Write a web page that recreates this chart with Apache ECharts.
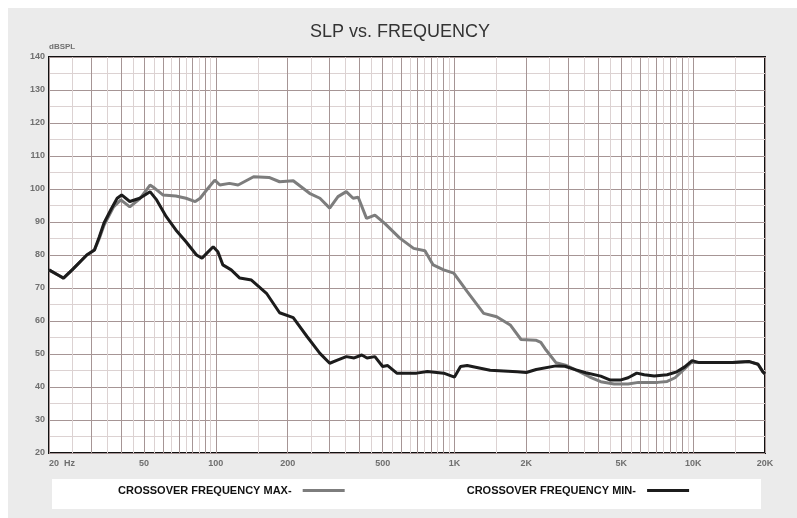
<!DOCTYPE html>
<html>
<head>
<meta charset="utf-8">
<script src="https://cdn.jsdelivr.net/npm/echarts@6/dist/echarts.min.js"></script>
<style>
  html, body { margin: 0; padding: 0; background: #fff; }
  #chart { width: 797px; height: 518px; }
</style>
</head>
<body>
<div id="chart"></div>
<script>
// curve data (Hz, dB SPL)
var maxFreq = [20, 22, 23, 25, 28.8, 31, 32.5, 34, 37.3, 40, 43.6, 48, 53, 55.5, 60, 68, 75, 82, 86, 91.5,
  99, 104, 114, 124, 144, 167, 185, 211, 247, 273, 300, 325, 352, 376, 395, 428, 464, 510, 590, 674,
  752, 814, 901, 993, 1131, 1325, 1503, 1712, 1900, 2190, 2300, 2420, 2660, 2920, 3350, 3670, 4100, 4660, 5340, 5900,
  7100, 7780, 8400, 9100, 9800, 10600, 14600, 17200, 18700, 19600, 20000];
var maxDb = [75.5, 73.8, 73, 75.5, 80, 81.5, 85, 89, 94.6, 96.7, 94.6, 97, 101.2, 100.2, 98.2, 97.9, 97.2, 96.2, 97.2, 99.7,
  102.7, 101.2, 101.7, 101.2, 103.7, 103.5, 102.2, 102.5, 98.7, 97.2, 94.2, 97.7, 99.2, 97.2, 97.5, 91.1, 92.1, 89.6, 85.1, 82,
  81.3, 77, 75.5, 74.5, 68.9, 62.3, 61.3, 58.8, 54.4, 54.2, 53.5, 51.2, 47.4, 46.6, 44.6, 43.1, 41.6, 40.9, 40.9, 41.4,
  41.4, 41.7, 42.8, 45.2, 47.4, 47.4, 47.4, 47.7, 46.9, 44.6, 44];

var minFreq = [20, 22, 23, 25, 28.8, 31, 32.5, 34, 36.5, 38.6, 40.3, 43.6, 48, 53, 56.5, 62, 68, 75, 83, 87.5,
  91.5, 97.5, 99, 102, 107, 116, 126, 141, 163, 185, 211, 241, 273, 300, 325, 352, 380, 409, 430, 464,
  500, 525, 573, 694, 770, 901, 1000, 1060, 1130, 1410, 1830, 2000, 2200, 2660, 2900, 3230, 3550, 4100, 4500, 4950,
  5340, 5800, 6240, 6870, 7780, 8540, 9220, 9900, 10600, 14600, 17200, 18700, 19600, 20000];
var minDb = [75.5, 73.8, 73, 75.5, 80, 81.5, 85.5, 89.7, 94, 97.2, 98.2, 96.2, 97.2, 99.2, 96.7, 91.6, 87.6, 84, 80, 79,
  80.5, 82.5, 83, 81, 77, 75.5, 73, 72.4, 68.4, 62.5, 61, 55.3, 50.2, 47.2, 48.2, 49.2, 48.8, 49.7, 48.8, 49.2,
  46.2, 46.5, 44.2, 44.2, 44.7, 44.2, 43, 46.2, 46.5, 45.1, 44.6, 44.4, 45.3, 46.4, 46.3, 45.2, 44.3, 43.3, 42.1, 42.1,
  42.8, 44.2, 43.7, 43.3, 43.7, 44.6, 46.1, 48, 47.4, 47.4, 47.7, 46.9, 44.6, 44];

// x axis labels and grid lines
var freqLabels = [20, 50, 100, 200, 500, 1000, 2000, 5000, 10000, 20000];
var majorGrid = [20, 30, 40, 50, 60, 70, 80, 90, 100, 200, 300, 400, 500, 600, 700, 800, 900,
  1000, 2000, 3000, 4000, 5000, 6000, 7000, 8000, 9000, 10000, 20000];
var minorGrid = [25, 35, 45, 55, 65, 75, 85, 95, 150, 250, 350, 450, 550, 650, 750, 850, 950,
  1500, 2500, 3500, 4500, 5500, 6500, 7500, 8500, 9500, 15000];

function zip(xs, ys) {
  return xs.map(function (x, i) { return [x, ys[i]]; });
}

var chart = echarts.init(document.getElementById('chart'));

var xBase = {
  type: 'log',
  logBase: 10,
  min: 20,
  max: 20000,
  position: 'bottom',
  axisLine: { show: false },
  splitLine: { show: false }
};

chart.setOption({
  backgroundColor: '#ffffff',
  animation: false,
  graphic: [
    { type: 'rect', z: -10, shape: { x: 8, y: 8, width: 789, height: 510 }, style: { fill: '#ebebeb' } },
    { type: 'rect', z: -9, shape: { x: 52, y: 479, width: 709, height: 30 }, style: { fill: '#ffffff' } }
  ],
  title: {
    text: 'SLP vs. FREQUENCY',
    left: 310,
    top: 23,
    padding: 0,
    textStyle: { fontFamily: 'Liberation Sans, Arial, sans-serif', fontSize: 18, fontWeight: 'normal', color: '#333' }
  },
  legend: {
    left: 118,
    top: 485,
    padding: 0,
    align: 'right',
    icon: 'rect',
    itemWidth: 42,
    itemHeight: 3,
    itemGap: 122,
    formatter: function (name) { return name + '  '; },
    textStyle: { fontFamily: 'Liberation Sans, Arial, sans-serif', fontSize: 11, fontWeight: 'bold', color: '#111' },
    data: ['CROSSOVER FREQUENCY MAX-', 'CROSSOVER FREQUENCY MIN-']
  },
  grid: {
    left: 49,
    right: 32,
    top: 57,
    bottom: 65,
    show: true,
    backgroundColor: '#ffffff',
    borderColor: '#111',
    borderWidth: 2
  },
  xAxis: [
    Object.assign({}, xBase, {
      axisTick: {
        show: true, inside: true, length: 396,
        customValues: majorGrid,
        lineStyle: { color: '#a69595', width: 1 }
      },
      axisLabel: {
        customValues: freqLabels,
        margin: 6,
        alignMinLabel: 'left',
        fontFamily: 'Liberation Sans, Arial, sans-serif',
        fontSize: 9,
        fontWeight: 'bold',
        color: '#6f6f6f',
        formatter: function (v) {
          if (v === 20) return '20  Hz';
          return v >= 1000 ? (v / 1000) + 'K' : String(v);
        }
      }
    }),
    Object.assign({}, xBase, {
      axisTick: {
        show: true, inside: true, length: 396,
        customValues: minorGrid,
        lineStyle: { color: '#dcd2d2', width: 1 }
      },
      axisLabel: { show: false }
    })
  ],
  yAxis: {
    type: 'value',
    min: 20,
    max: 140,
    interval: 10,
    name: 'dBSPL',
    nameLocation: 'end',
    nameGap: 6,
    nameTextStyle: { align: 'left', fontSize: 8, fontWeight: 'bold', color: '#6f6f6f', fontFamily: 'Liberation Sans, Arial, sans-serif' },
    axisLine: { show: false },
    axisTick: { show: false },
    axisLabel: { margin: 4, fontSize: 9, fontWeight: 'bold', color: '#6f6f6f', fontFamily: 'Liberation Sans, Arial, sans-serif' },
    splitLine: { show: true, lineStyle: { color: '#a69595', width: 1 } },
    minorTick: { show: false, splitNumber: 2 },
    minorSplitLine: { show: true, lineStyle: { color: '#dcd2d2', width: 1 } }
  },
  series: [
    {
      name: 'CROSSOVER FREQUENCY MAX-',
      type: 'line',
      xAxisIndex: 0,
      symbol: 'none',
      color: '#7d7d7d',
      lineStyle: { color: '#7d7d7d', width: 3 },
      data: zip(maxFreq, maxDb)
    },
    {
      name: 'CROSSOVER FREQUENCY MIN-',
      type: 'line',
      xAxisIndex: 0,
      symbol: 'none',
      color: '#1c1c1c',
      lineStyle: { color: '#1c1c1c', width: 3 },
      data: zip(minFreq, minDb)
    }
  ]
});
</script>
</body>
</html>
